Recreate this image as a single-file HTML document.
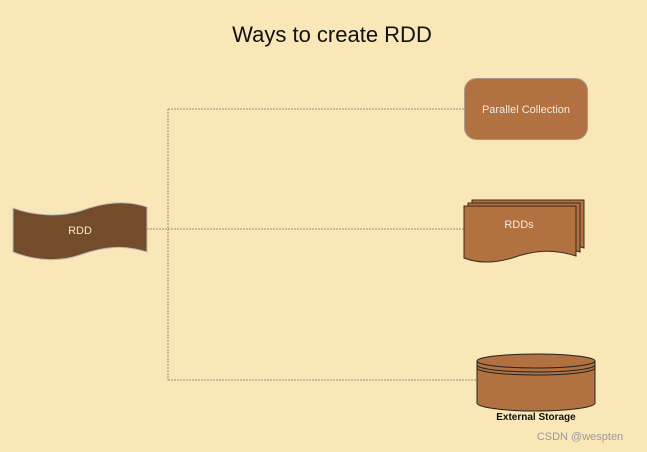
<!DOCTYPE html>
<html><head><meta charset="utf-8"><style>
html,body{margin:0;padding:0;background:#f9e7b7;}
svg{display:block;}
text{font-family:"Liberation Sans",Arial,sans-serif;}
</style></head><body>
<svg width="647" height="452" viewBox="0 0 647 452" xmlns="http://www.w3.org/2000/svg">
<rect width="647" height="452" fill="#f9e7b7"/>
<text x="332" y="42" font-size="22" text-anchor="middle" fill="#111">Ways to create RDD</text>
<g stroke="#9a8f80" stroke-width="1" stroke-dasharray="2,1" fill="none">
<path d="M147,229 H168 M168,109 V380 M168,109 H464 M168,229 H464 M168,380 H477"/>
</g>
<path d="M13,208 C35,216 60,217 80,211 C105,202 125,200 147,207 L147,252 C125,245 105,246 80,255 C60,262 35,261 13,252 Z" fill="#744c2a" stroke="#bbb" stroke-width="1"/>
<text x="80" y="234" font-size="11" fill="#f2e6d6" text-anchor="middle">RDD</text>
<rect x="464.5" y="78.5" width="123" height="61" rx="12" fill="#b17141" stroke="#a89a88" stroke-width="1"/>
<text x="526" y="113" font-size="11" fill="#f5eadc" text-anchor="middle">Parallel Collection</text>
<g stroke="#3a2a1c" stroke-width="1" fill="#b17141">
<path d="M472,200 H584 V248 C560,240 540,243 520,250 C500,256 485,255 472,250 Z"/>
<path d="M468,203 H580 V252 C556,244 536,247 516,254 C496,260 481,259 468,254 Z"/>
<path d="M464,206 H576 V256 C552,248 532,251 512,258 C492,264 477,263 464,258 Z"/>
</g>
<text x="519" y="228" font-size="11" fill="#f5eadc" text-anchor="middle">RDDs</text>
<g stroke="#222" stroke-width="1" fill="#b17141">
<path d="M477,361 V403 A59,8 0 0 0 595,403 V361 Z"/>
<ellipse cx="536" cy="361" rx="59" ry="7"/>
<path d="M477,365 A59,7 0 0 0 595,365 M477,368 A59,7 0 0 0 595,368" fill="none"/>
</g>
<text x="536" y="420" font-size="10" fill="#111" text-anchor="middle" font-weight="bold">External Storage</text>
<text x="580" y="440" font-size="11" fill="#9a9a9a" text-anchor="middle">CSDN @wespten</text>
</svg>
</body></html>
